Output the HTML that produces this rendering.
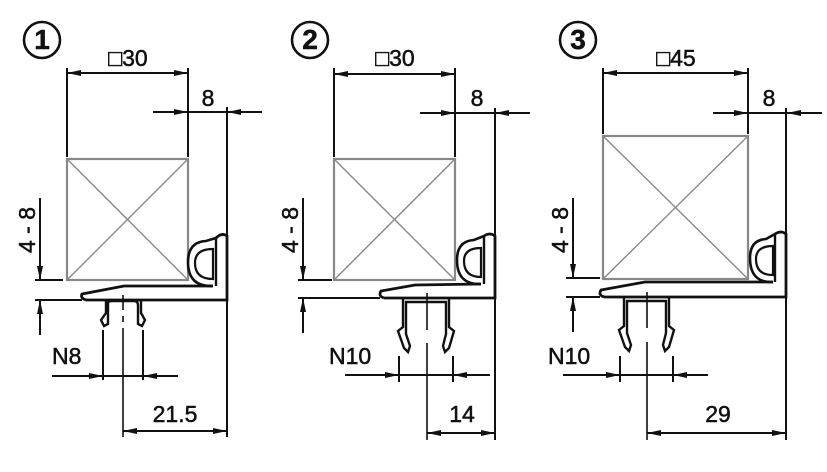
<!DOCTYPE html>
<html><head><meta charset="utf-8"><style>
html,body{margin:0;padding:0;background:#fff;}
svg{display:block}
text{font-family:"Liberation Sans","DejaVu Sans",sans-serif;fill:#111;stroke:#111;stroke-width:0.5}
</style></head><body>
<svg width="827" height="472" viewBox="0 0 827 472" xmlns="http://www.w3.org/2000/svg">
<defs>
<marker id="a" markerUnits="userSpaceOnUse" markerWidth="14" markerHeight="8" refX="14" refY="4" orient="auto-start-reverse"><path d="M0,1 L14,4 L0,7 z" fill="#111"/></marker>
</defs>
<g stroke="#111" stroke-width="2" fill="none">

<!-- ============ FIGURE 1 ============ -->
<circle cx="42" cy="40" r="18" stroke-width="2.6"/>
<rect x="67" y="159" width="121" height="121" stroke="#888" stroke-width="2.2"/>
<path d="M67,159 L188,280 M188,159 L67,280" stroke="#888" stroke-width="1.4"/>
<path d="M67,68 V157 M188,68 V157"/>
<line x1="67" y1="73" x2="188" y2="73" marker-start="url(#a)" marker-end="url(#a)"/>
<path d="M153,112 H262"/>
<line x1="153" y1="112" x2="188" y2="112" marker-end="url(#a)"/>
<line x1="262" y1="112" x2="227" y2="112" marker-end="url(#a)"/>
<path d="M227,107 V437"/>
<path d="M35,280 H63 M35,300 H82"/>
<line x1="40" y1="198" x2="40" y2="280" marker-end="url(#a)"/>
<line x1="40" y1="335" x2="40" y2="300" marker-end="url(#a)"/>
<path d="M86,300 H227 V236 Q222,232 216,238" stroke-width="2.8"/>
<path d="M86,300 Q80,298 82,294 L124,286 L213,286" stroke-width="2.8"/>
<path d="M213,286 Q188,287 188,262 Q188,242 206,241 L216,238" stroke-width="2.6"/>
<path d="M213,279 Q195,279 195,263 Q195,249 213,249 Z" stroke-width="2.2"/>
<path d="M216,238 V286" stroke-width="2.4"/>
<path d="M106,300 V313 L101,320 L104,326 L108,324 V303 Q108,301 112,301 H134 Q138,301 138,305 V324 L142,326 L145,320 L141,313 V300" stroke-width="2.4"/>
<path d="M123,295 V310 M123,316 V322 M123,328 V437" stroke-width="1.6"/>
<path d="M103,330 V380 M143,330 V380"/>
<path d="M52,376 H178"/>
<line x1="52" y1="376" x2="103" y2="376" marker-end="url(#a)"/>
<line x1="178" y1="376" x2="143" y2="376" marker-end="url(#a)"/>
<line x1="123" y1="431" x2="227" y2="431" marker-start="url(#a)" marker-end="url(#a)"/>

<!-- ============ FIGURE 2 ============ -->
<circle cx="310" cy="40" r="18" stroke-width="2.6"/>
<rect x="334" y="159" width="121" height="121" stroke="#888" stroke-width="2.2"/>
<path d="M334,159 L455,280 M455,159 L334,280" stroke="#888" stroke-width="1.4"/>
<path d="M334,68 V157 M455,68 V157"/>
<line x1="334" y1="74" x2="455" y2="74" marker-start="url(#a)" marker-end="url(#a)"/>
<path d="M420,113 H530"/>
<line x1="420" y1="113" x2="455" y2="113" marker-end="url(#a)"/>
<line x1="530" y1="113" x2="495" y2="113" marker-end="url(#a)"/>
<path d="M495,108 V440"/>
<path d="M298,280 H332 M298,298 H380"/>
<line x1="303" y1="198" x2="303" y2="280" marker-end="url(#a)"/>
<line x1="303" y1="333" x2="303" y2="298" marker-end="url(#a)"/>
<path d="M384,298 H495 V236 Q490,232 484,236" stroke-width="2.8"/>
<path d="M384,298 Q378,296 381,291 L415,285 L481,284" stroke-width="2.8"/>
<path d="M481,284 Q457,285 457,260 Q457,241 474,240 L484,236" stroke-width="2.6"/>
<path d="M481,277 Q464,277 464,261 Q464,248 481,248 Z" stroke-width="2.2"/>
<path d="M484,236 V284" stroke-width="2.4"/>
<path d="M403,298 V327 L398,331 L404,348 L408,352 L410,346 L406,334 V302 H446 V334 L443,346 L445,352 L449,348 L454,331 L449,327 V298" stroke-width="2.4"/>
<path d="M427,293 V330 M427,343 V440" stroke-width="1.6"/>
<path d="M399,356 V382 M453,356 V382"/>
<path d="M345,375 H490"/>
<line x1="345" y1="375" x2="399" y2="375" marker-end="url(#a)"/>
<line x1="490" y1="375" x2="453" y2="375" marker-end="url(#a)"/>
<line x1="427" y1="433" x2="495" y2="433" marker-start="url(#a)" marker-end="url(#a)"/>

<!-- ============ FIGURE 3 ============ -->
<circle cx="578" cy="40" r="18" stroke-width="2.6"/>
<rect x="603" y="136" width="145" height="143" stroke="#888" stroke-width="2.2"/>
<path d="M603,136 L748,279 M748,136 L603,279" stroke="#888" stroke-width="1.4"/>
<path d="M603,68 V134 M748,68 V134"/>
<line x1="603" y1="73" x2="748" y2="73" marker-start="url(#a)" marker-end="url(#a)"/>
<path d="M713,113 H822"/>
<line x1="713" y1="113" x2="748" y2="113" marker-end="url(#a)"/>
<line x1="822" y1="113" x2="787" y2="113" marker-end="url(#a)"/>
<path d="M786,108 V440"/>
<path d="M566,278 H600 M566,297 H600"/>
<line x1="573" y1="198" x2="573" y2="278" marker-end="url(#a)"/>
<line x1="573" y1="332" x2="573" y2="297" marker-end="url(#a)"/>
<path d="M604,297 H786 V234 Q781,230 775,234" stroke-width="2.8"/>
<path d="M604,297 Q598,295 601,290 L645,282 L773,282" stroke-width="2.8"/>
<path d="M773,282 Q750,283 750,258 Q750,240 766,239 L775,234" stroke-width="2.6"/>
<path d="M773,275 Q756,275 756,259 Q756,246 773,246 Z" stroke-width="2.2"/>
<path d="M775,234 V282" stroke-width="2.4"/>
<path d="M624,297 V326 L619,330 L625,347 L629,351 L631,345 L627,333 V301 H666 V333 L663,345 L665,351 L669,347 L674,330 L669,326 V297" stroke-width="2.4"/>
<path d="M647,292 V328 M647,342 V440" stroke-width="1.6"/>
<path d="M620,356 V382 M673,356 V382"/>
<path d="M563,375 H708"/>
<line x1="563" y1="375" x2="620" y2="375" marker-end="url(#a)"/>
<line x1="708" y1="375" x2="673" y2="375" marker-end="url(#a)"/>
<line x1="647" y1="433" x2="786" y2="433" marker-start="url(#a)" marker-end="url(#a)"/>
</g>

<g font-size="23">
<text x="42" y="49" text-anchor="middle" font-weight="bold" font-size="28">1</text>
<text x="310" y="49" text-anchor="middle" font-weight="bold" font-size="28">2</text>
<text x="578" y="49" text-anchor="middle" font-weight="bold" font-size="28">3</text>

<text x="128" y="66" text-anchor="middle">□30</text>
<text x="208" y="106" text-anchor="middle">8</text>
<text x="395" y="66" text-anchor="middle">□30</text>
<text x="477" y="106" text-anchor="middle">8</text>
<text x="676" y="66" text-anchor="middle">□45</text>
<text x="769" y="106" text-anchor="middle">8</text>

<text transform="translate(35,230) rotate(-90)" text-anchor="middle">4 - 8</text>
<text transform="translate(298,230) rotate(-90)" text-anchor="middle">4 - 8</text>
<text transform="translate(568,230) rotate(-90)" text-anchor="middle">4 - 8</text>

<text x="52" y="364">N8</text>
<text x="329" y="364">N10</text>
<text x="548" y="364">N10</text>

<text x="175" y="422" text-anchor="middle">21.5</text>
<text x="462" y="422" text-anchor="middle">14</text>
<text x="718" y="422" text-anchor="middle">29</text>
</g>
</svg>
</body></html>
